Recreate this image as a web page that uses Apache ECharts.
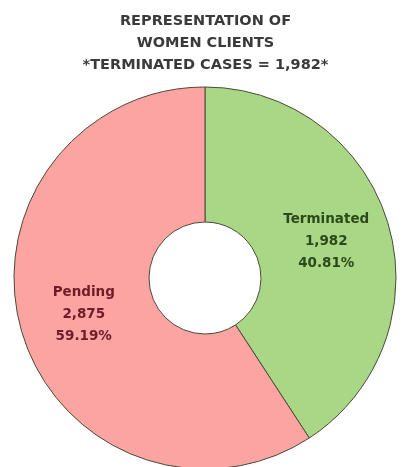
<!DOCTYPE html>
<html>
<head>
<meta charset="utf-8">
<script src="https://cdn.jsdelivr.net/npm/echarts@6/dist/echarts.min.js"></script>
<style>
  html, body { margin: 0; padding: 0; background: #fff; }
  #chart { width: 411px; height: 467px; }
</style>
</head>
<body>
<div id="chart"></div>
<script>
// chart data
var categories = ["Terminated", "Pending"];
var caseCounts = [1982, 2875];
var casePercents = ["40.81%", "59.19%"];
var sliceColors = ["#aad786", "#fba4a1"];
var labelColors = ["#2b4a1c", "#6e1c2a"];
var titleLines = ["REPRESENTATION OF", "WOMEN CLIENTS", "*TERMINATED CASES = 1,982*"];

var chart = echarts.init(document.getElementById("chart"));

var pieData = categories.map(function (name, i) {
  return {
    name: name,
    value: caseCounts[i],
    itemStyle: { color: sliceColors[i] },
    label: { color: labelColors[i] },
  };
});

chart.setOption({
  backgroundColor: "#ffffff",
  animation: false,
  title: {
    text: titleLines.join("\n"),
    left: "center",
    top: 5,
    textStyle: {
      fontFamily: "DejaVu Sans",
      fontWeight: "bold",
      fontSize: 14.5,
      lineHeight: 22,
      color: "#3a3a3a",
    },
  },
  series: [
    {
      type: "pie",
      center: [205, 278],
      radius: [56, 191],
      startAngle: 90,
      clockwise: true,
      data: pieData,
      itemStyle: {
        borderColor: "#4a4a3a",
        borderWidth: 1,
      },
      label: {
        show: true,
        position: "inside",
        fontFamily: "DejaVu Sans",
        fontWeight: "bold",
        fontSize: 13.5,
        lineHeight: 22,
        formatter: function (p) {
          var idx = categories.indexOf(p.name);
          return p.name + "\n" + p.value.toLocaleString("en-US") + "\n" + casePercents[idx];
        },
      },
      labelLine: { show: false },
      emphasis: { disabled: true },
    },
  ],
});
</script>
</body>
</html>
